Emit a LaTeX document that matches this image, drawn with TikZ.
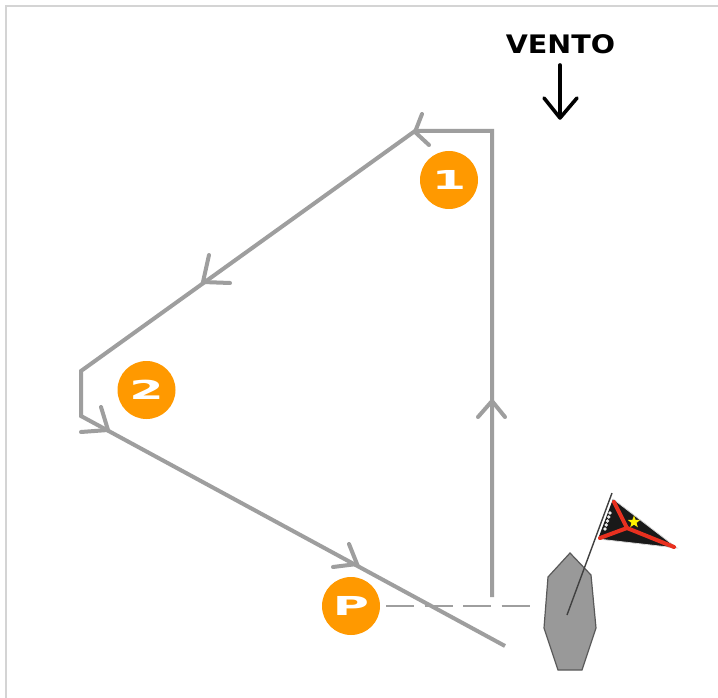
\documentclass[tikz,border=0pt]{standalone}
\usepackage{fontspec}
\setmainfont{DejaVu Sans}
\usetikzlibrary{shapes.geometric,calc}
\definecolor{course}{HTML}{9E9E9E}
\definecolor{markorange}{HTML}{FF9900}
\definecolor{hull}{HTML}{999999}
\definecolor{flagred}{HTML}{E8301F}
\definecolor{frameg}{HTML}{D4D4D4}
\tikzset{
  courseline/.style={draw=course,line width=4pt,line join=miter,line cap=butt},
  barb/.style={draw=course,line width=4pt,line cap=round},
  markdot/.style={circle,fill=markorange,minimum size=58pt,inner sep=0pt},
  markglyph/.style={text=white,inner sep=0pt,font=\bfseries\fontsize{29}{29}\selectfont,xscale=1.7,yscale=0.9}
}
\begin{document}
\begin{tikzpicture}[x=1pt,y=-1pt]
\useasboundingbox (0,0) rectangle (718,698);
\fill[white] (0,0) rectangle (718,698);
\draw[frameg,line width=1.5pt] (6,698) -- (6,6) -- (718,6);
% course
\coordinate (start) at (492,597);
\coordinate (c1) at (492,131);
\coordinate (c2) at (415,131);
\coordinate (c3) at (81,371);
\coordinate (c4) at (81,416);
\coordinate (fin) at (505,646);
\draw[courseline] (start) -- (c1) -- (c2) -- (c3) -- (c4) -- (fin);
% arrowheads
\draw[barb] (422,114) -- (415,132) -- (429,145);
\draw[barb] (209,255) -- (203,282) -- (230,283);
\draw[barb] (101,407) -- (108,430) -- (81,432);
\draw[barb] (349,544) -- (357,564) -- (333,567);
\draw[barb] (478,417) -- (492,401) -- (505,417);
% marks
\node[markdot] (m1) at (449,180) {};
\node[markglyph] at (m1) {1};
\node[markdot] (m2) at (146.5,390) {};
\node[markglyph] at (m2) {2};
\node[markdot] (mp) at (351,606) {};
\node[markglyph] at (mp) {P};
% start line
\coordinate (ls) at (386,606);
\coordinate (le) at (530,606);
\draw[draw=course,line width=1.6pt,dash pattern=on 28pt off 10.5pt] (ls) -- (le);
% boat
\draw[fill=hull,draw=black!65,line width=1.2pt] (570,553) -- (591,575) -- (596,628) -- (582,670) -- (558,670) -- (544,628) -- (548,577) -- cycle;
% flag
\fill[black!90] (613,499) -- (677,548) -- (598,539) -- cycle;
\draw[white!70!gray,line width=.8pt] (613,499) -- (677,548) -- (598,539);
\draw[flagred,line width=4pt,line join=round,line cap=round] (614,502) -- (627,528) -- (674,547);
\draw[flagred,line width=4pt,line cap=round] (627,528) -- (600,538);
\node[star,star points=5,star point ratio=2.4,fill=yellow,inner sep=0pt,minimum size=13pt] at (634,522) {};
\foreach \t in {0,.25,.5,.75,1}
  \fill[white!85!gray] ($(610,513)!\t!(605,529)$) circle (1.9pt);
\draw[black!75,line width=1.4pt] (567,615) -- (612,493);
% wind
\node[font=\bfseries\fontsize{25.5}{25.5}\selectfont,inner sep=0pt,xscale=1.12,text=black] (vento) at (560.5,44) {VENTO};
\draw[black,line width=3.6pt,line cap=round] (560,65) -- (560,117);
\draw[black,line width=3.6pt,line cap=round,line join=round] (544,98) -- (560,118) -- (577,98);
\end{tikzpicture}
\end{document}
